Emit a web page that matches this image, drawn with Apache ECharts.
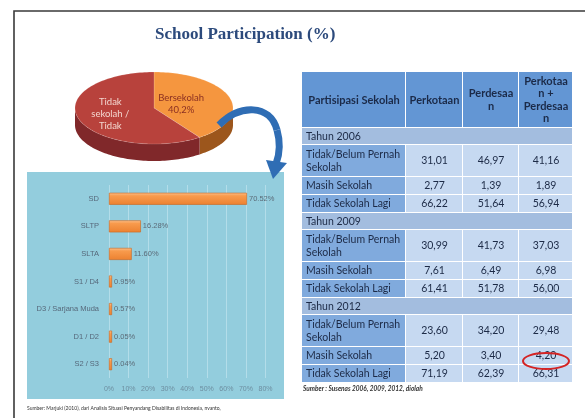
<!DOCTYPE html>
<html>
<head>
<meta charset="utf-8">
<script src="https://cdn.jsdelivr.net/npm/echarts@6/dist/echarts.min.js"></script>
<style>
  html, body { margin: 0; padding: 0; background: #fff; }
  #main { width: 585px; height: 418px; }
</style>
</head>
<body>
<div id="main"></div>
<script>
// pie: Bersekolah vs Tidak sekolah
const pieNames = ['Bersekolah', 'Tidak\nsekolah /\nTidak'];
const pieValues = [40.2, 59.8];

// bar chart: education level
const levels = ['SD', 'SLTP', 'SLTA', 'S1 / D4', 'D3 / Sarjana Muda', 'D1 / D2', 'S2 / S3'];
const levelValues = [70.52, 16.28, 11.60, 0.95, 0.57, 0.05, 0.04];
const xMax = 80;
const xStep = 10;

// table
const tableHeader = ['Partisipasi Sekolah', 'Perkotaan', 'Perdesaa\nn', 'Perkotaa\nn +\nPerdesaa\nn'];
const years = ['Tahun 2006', 'Tahun 2009', 'Tahun 2012'];
const rowNames = ['Tidak/Belum Pernah\nSekolah', 'Masih Sekolah', 'Tidak Sekolah Lagi'];
const perkotaan = [[31.01, 2.77, 66.22], [30.99, 7.61, 61.41], [23.60, 5.20, 71.19]];
const perdesaan = [[46.97, 1.39, 51.64], [41.73, 6.49, 51.78], [34.20, 3.40, 62.39]];
const gabungan = [[41.16, 1.89, 56.94], [37.03, 6.98, 56.00], [29.48, 4.20, 66.31]];

// ---- pie (3D look, custom series) ----
const pie = { cx: 154, cy: 108, rx: 79, ry: 36, depth: 17 };
const pieTop = ['#f5963f', '#b8423c'];
const pieSide = ['#9c561c', '#80282a'];
const pieLabelR = [0.36, 0.58];
const pieLabelColor = ['#8a2f22', '#f3d6cf'];

function ellPt(t, dy) {
  return [pie.cx + pie.rx * Math.sin(t), pie.cy - pie.ry * Math.cos(t) + (dy || 0)];
}
function arcPts(a0, a1, dy) {
  const pts = [];
  const n = Math.max(2, Math.ceil((a1 - a0) / 0.03));
  for (let k = 0; k <= n; k++) pts.push(ellPt(a0 + (a1 - a0) * k / n, dy));
  return pts;
}
function renderPie(params, api) {
  const i = params.dataIndex;
  const total = pieValues.reduce((a, b) => a + b, 0);
  let start = 0;
  for (let k = 0; k < i; k++) start += pieValues[k];
  const a0 = start / total * Math.PI * 2;
  const a1 = (start + pieValues[i]) / total * Math.PI * 2;
  const children = [];
  // front wall
  const s0 = Math.max(a0, Math.PI / 2), s1 = Math.min(a1, Math.PI * 1.5);
  if (s1 > s0) {
    const top = arcPts(s0, s1, 0);
    const bot = arcPts(s0, s1, pie.depth).reverse();
    children.push({ type: 'polygon', z2: 1, shape: { points: top.concat(bot) },
      style: { fill: pieSide[i] } });
  }
  // top face
  children.push({ type: 'polygon', z2: 5,
    shape: { points: [[pie.cx, pie.cy]].concat(arcPts(a0, a1, 0)) },
    style: { fill: pieTop[i], stroke: 'rgba(255,255,255,0.25)', lineWidth: 0.6 } });
  const mid = (a0 + a1) / 2;
  const lx = pie.cx + pie.rx * pieLabelR[i] * Math.sin(mid);
  const ly = pie.cy - pie.ry * pieLabelR[i] * Math.cos(mid);
  const txt = i === 0 ? pieNames[i] + '\n' + pieValues[i].toFixed(1).replace('.', ',') + '%' : pieNames[i];
  children.push({ type: 'text', z2: 10, x: lx, y: ly,
    style: { text: txt, fill: pieLabelColor[i], font: '9.5px Lato', align: 'center',
      verticalAlign: 'middle', lineHeight: 12 } });
  return { type: 'group', children: children };
}

// ---- table (custom series) ----
const colX = [302, 406, 463, 519, 573];
const tableTop = 72;
const rowH = { header: 56, year: 17, double: 32, single: 18 };
const tableRows = [{ kind: 'header' }];
years.forEach((y, yi) => {
  tableRows.push({ kind: 'year', text: y });
  rowNames.forEach((r, ri) => {
    tableRows.push({ kind: ri === 0 ? 'double' : 'single', text: r,
      vals: [perkotaan[yi][ri], perdesaan[yi][ri], gabungan[yi][ri]] });
  });
});
const rowTops = [];
let acc = tableTop;
tableRows.forEach(r => { rowTops.push(acc); acc += rowH[r.kind]; });

function fmt(v) { return v.toFixed(2).replace('.', ','); }

function renderTable(params, api) {
  const r = tableRows[params.dataIndex];
  const y0 = rowTops[params.dataIndex];
  const h = rowH[r.kind];
  const ch = [];
  const gap = 1;
  if (r.kind === 'header') {
    for (let c = 0; c < 4; c++) {
      ch.push({ type: 'rect', shape: { x: colX[c], y: y0, width: colX[c + 1] - colX[c] - gap, height: h - gap },
        style: { fill: '#6396d4' } });
      ch.push({ type: 'text', x: (colX[c] + colX[c + 1]) / 2, y: y0 + h / 2,
        style: { text: tableHeader[c], fill: '#1b2a48', font: 'bold 11px Lato', align: 'center',
          verticalAlign: 'middle', lineHeight: 12.5 } });
    }
  } else if (r.kind === 'year') {
    ch.push({ type: 'rect', shape: { x: colX[0], y: y0, width: colX[4] - colX[0] - gap, height: h - gap },
      style: { fill: '#a3bddf' } });
    ch.push({ type: 'text', x: colX[0] + 4, y: y0 + h / 2,
      style: { text: r.text, fill: '#1c2a46', font: '10.5px Lato', verticalAlign: 'middle' } });
  } else {
    ch.push({ type: 'rect', shape: { x: colX[0], y: y0, width: colX[1] - colX[0] - gap, height: h - gap },
      style: { fill: '#80aadd' } });
    ch.push({ type: 'text', x: colX[0] + 4, y: y0 + h / 2,
      style: { text: r.text, fill: '#1c2a46', font: '10.5px Lato', verticalAlign: 'middle', lineHeight: 13 } });
    for (let c = 1; c < 4; c++) {
      ch.push({ type: 'rect', shape: { x: colX[c], y: y0, width: colX[c + 1] - colX[c] - gap, height: h - gap },
        style: { fill: '#c6d9f1' } });
      ch.push({ type: 'text', x: (colX[c] + colX[c + 1]) / 2, y: y0 + h / 2,
        style: { text: fmt(r.vals[c - 1]), fill: '#1c2a46', font: '10.5px Lato', align: 'center',
          verticalAlign: 'middle' } });
    }
  }
  return { type: 'group', children: ch };
}

const chart = echarts.init(document.getElementById('main'));
chart.setOption({
  animation: false,
  backgroundColor: '#ffffff',
  title: {
    text: 'School Participation (%)',
    left: 150, top: 21,
    textStyle: { fontFamily: 'Liberation Serif', fontWeight: 'bold', fontSize: 17, color: '#2c4a7c' }
  },
  graphic: [
    // slide frame
    { type: 'polyline', z: -1, shape: { points: [[14, 420], [14, 11], [590, 11]] },
      style: { stroke: '#3a3a3a', lineWidth: 1.6, fill: null } },
    // bar panel background
    { type: 'rect', z: -1, shape: { x: 27, y: 172, width: 257, height: 227 },
      style: { fill: '#93cddd' } },
    // arrow
    { type: 'bezierCurve', z: 10,
      shape: { x1: 219, y1: 125, cpx1: 240, cpy1: 104, cpx2: 270, cpy2: 104, x2: 277, y2: 130 },
      style: { stroke: '#2f6db4', lineWidth: 7, fill: null } },
    { type: 'bezierCurve', z: 10,
      shape: { x1: 277, y1: 130, cpx1: 281, cpy1: 144, cpx2: 279, cpy2: 156, x2: 276, y2: 164 },
      style: { stroke: '#2f6db4', lineWidth: 7, fill: null } },
    { type: 'polygon', z: 10, shape: { points: [[266, 160], [287, 163], [273, 179]] },
      style: { fill: '#2f6db4' } },
    // red ellipse
    { type: 'ellipse', z: 10, shape: { cx: 546, cy: 361, rx: 23, ry: 8 },
      style: { stroke: '#d42424', lineWidth: 2, fill: null } },
    // sources
    { type: 'text', left: 303, top: 385,
      style: { text: 'Sumber : Susenas 2006, 2009, 2012, diolah', fill: '#333', font: 'italic bold 6.5px Lato' } },
    { type: 'text', left: 27, top: 406,
      style: { text: 'Sumber: Marjuki (2010), dari Analisis Situasi Penyandang Disabilitas di Indonesia, nvanto,',
        fill: '#333', font: '5px Lato' } }
  ],
  grid: { left: 109, right: 319.5, top: 185, bottom: 40 },
  xAxis: {
    type: 'value', min: 0, max: xMax, interval: xStep,
    axisLabel: { formatter: '{value}%', fontSize: 7, color: '#6d8ea0', margin: 8 },
    axisLine: { show: false }, axisTick: { show: false },
    splitLine: { lineStyle: { color: '#b3dde9', width: 1 } }
  },
  yAxis: {
    type: 'category', data: levels, inverse: true,
    axisLabel: { fontSize: 7.5, color: '#56687a', margin: 10 },
    axisLine: { show: false }, axisTick: { show: false }
  },
  series: [
    {
      type: 'bar', data: levelValues, barWidth: 12, barMinHeight: 3,
      itemStyle: {
        color: new echarts.graphic.LinearGradient(0, 0, 0, 1, [
          { offset: 0, color: '#fcc28e' }, { offset: 0.25, color: '#f89b4d' }, { offset: 1, color: '#ec8130' }
        ]),
        borderColor: '#c9651e', borderWidth: 0.6
      },
      label: { show: true, position: 'right', distance: 2, fontSize: 7.5, color: '#5b6b78',
        formatter: p => p.value.toFixed(2) + '%' }
    },
    {
      type: 'custom', coordinateSystem: 'none', renderItem: renderPie,
      data: pieValues.map((v, i) => i), silent: true
    },
    {
      type: 'custom', coordinateSystem: 'none', renderItem: renderTable,
      data: tableRows.map((r, i) => i), silent: true
    }
  ]
});
</script>
</body>
</html>
